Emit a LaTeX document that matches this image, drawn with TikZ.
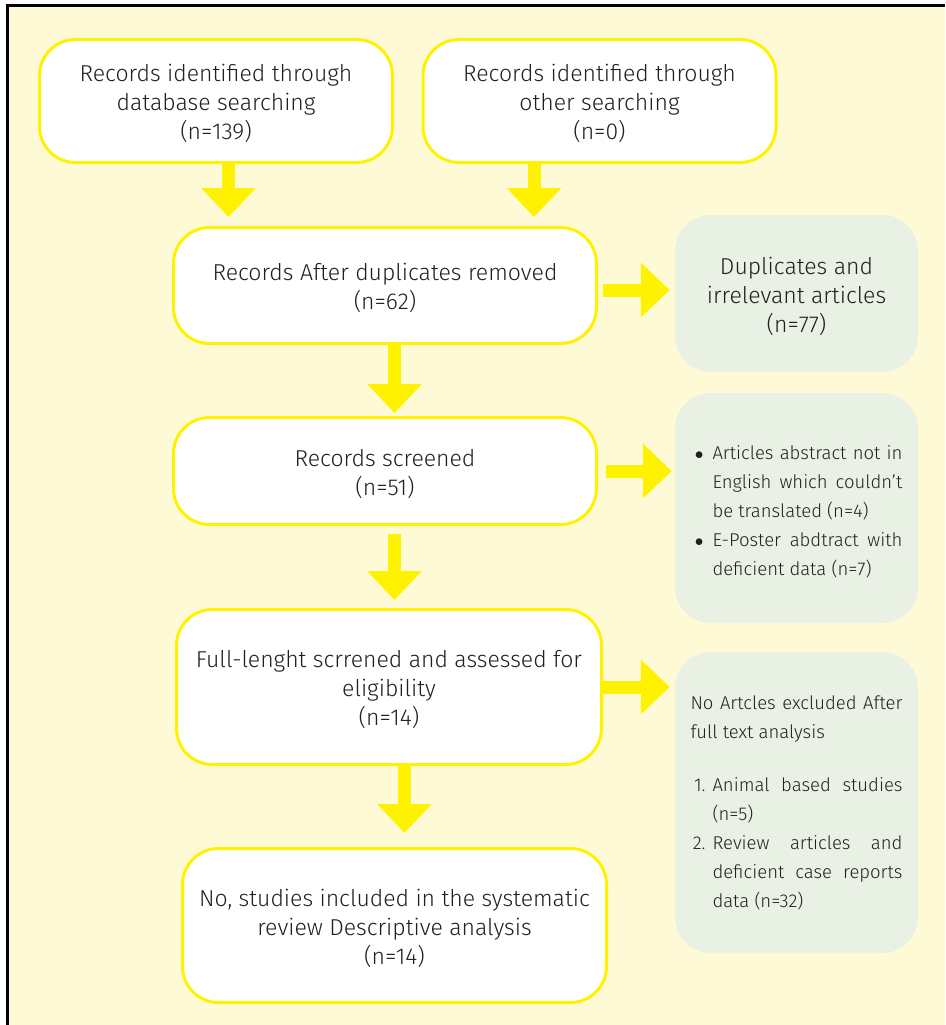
\documentclass[tikz,border=0pt]{standalone}
\usepackage{fontspec}
\setmainfont{Fira Sans}[UprightFont={* Light}]
\usepackage{enumitem}
\usetikzlibrary{arrows.meta,positioning,calc}
\definecolor{cream}{HTML}{FFFAD6}
\definecolor{flowyellow}{HTML}{FFF200}
\definecolor{mint}{HTML}{E8F1E4}
\definecolor{ink}{HTML}{231F20}
\newcommand{\bigtext}{\fontsize{23}{29}\selectfont}
\newcommand{\smalltext}{\fontsize{18.5}{29}\selectfont\setlength{\parindent}{0pt}%
  \hyphenpenalty=10000\exhyphenpenalty=10000}
\newcommand{\topstrut}{\rule{0pt}{23pt}}
\tikzset{
  record/.style={draw=flowyellow, line width=3pt, fill=white, rounded corners=36pt,
    align=center, inner sep=0pt, text=ink, font=\bigtext},
  excluded/.style={fill=mint, rounded corners=36pt, inner sep=0pt, text=ink,
    minimum width=243pt},
  flow/.style={color=flowyellow, line width=13pt,
    -{Triangle[width=53pt,length=29pt]}}
}

\begin{document}
\begin{tikzpicture}[x=1pt,y=-1pt]
\useasboundingbox (0,0) rectangle (945,1025);
% panel
\fill[white] (0,0) rectangle (945,1025);
\fill[cream] (7,5) rectangle (945,1025);
\draw[line width=3pt] (7.5,1025) -- (7.5,5.5) -- (945,5.5);

% main records
\node[record, minimum width=353pt, minimum height=123pt] (dbsearch) at (216,101)
  {\topstrut Records identified through\\database searching\\(n=139)};
\node[record, minimum width=353pt, minimum height=123pt] (othersearch) at (599.5,101)
  {\topstrut Records identified through\\other searching\\(n=0)};
\node[record, minimum width=423pt, minimum height=116pt] (dedup) at (385,285.5)
  {\topstrut Records After duplicates removed\\(n=62)};
\node[record, minimum width=423pt, minimum height=107pt] (screened) at (385,471)
  {\topstrut Records screened\\(n=51)};
\node[record, minimum width=425pt, minimum height=155pt] (fulltext) at (389,687)
  {\topstrut Full-lenght scrrened and assessed for\\eligibility\\(n=14)};
\node[record, minimum width=424pt, minimum height=154pt] (included) at (394.5,925.5)
  {\topstrut No, studies included in the systematic\\review Descriptive analysis\\(n=14)};

% exclusions
\node[excluded, minimum height=157pt, align=center, font=\bigtext] (dups) at (796.5,293.5)
  {\topstrut Duplicates and\\irrelevant articles\\(n=77)};
\node[excluded, minimum height=230pt, text width=212pt, align=justify, font=\smalltext] (abstracts) at (796.5,508)
  {\begin{itemize}[nosep,leftmargin=22pt,labelsep=9pt,label=$\bullet$]
   \item Articles abstract not in\linebreak English which couldn't\linebreak be translated (n=4)
   \item E-Poster abdtract with\linebreak deficient data (n=7)
   \end{itemize}\vspace{8pt}};
\node[excluded, minimum height=301pt, text width=212pt, align=justify, font=\smalltext] (fullexcl) at (796.5,802.5)
  {No Artcles excluded After\linebreak full text analysis\par\vspace{24pt}
   \begin{enumerate}[nosep,leftmargin=22pt,labelsep=7pt]
   \item Animal based studies\linebreak (n=5)
   \item Review articles and\linebreak deficient case reports\linebreak data (n=32)
   \end{enumerate}};

% arrows
\path[flow]
([xshift=12.5pt]dbsearch.south) edge[shorten >=9pt] ([xshift=12.5pt]dbsearch.south |- dedup.north)
([xshift=-65.5pt]othersearch.south) edge[shorten >=9pt] ([xshift=-65.5pt]othersearch.south |- dedup.north)
([xshift=9.5pt]dedup.south) edge[shorten >=3pt] ([xshift=9.5pt]dedup.south |- screened.north)
([xshift=9.5pt]screened.south) edge[shorten <=8pt, shorten >=8pt] ([xshift=9.5pt]screened.south |- fulltext.north)
([xshift=15.5pt]fulltext.south) edge[shorten >=14pt] ([xshift=15.5pt]fulltext.south |- included.north);
\path[flow]
([yshift=-4.5pt]dedup.east) edge[shorten <=5pt, shorten >=5pt] ([yshift=-4.5pt]dedup.east -| dups.west)
(screened.east) edge[shorten <=8pt, shorten >=3pt] (screened.east -| abstracts.west)
(fulltext.east) edge[shorten >=5pt] (fulltext.east -| fullexcl.west);
\end{tikzpicture}
\end{document}
